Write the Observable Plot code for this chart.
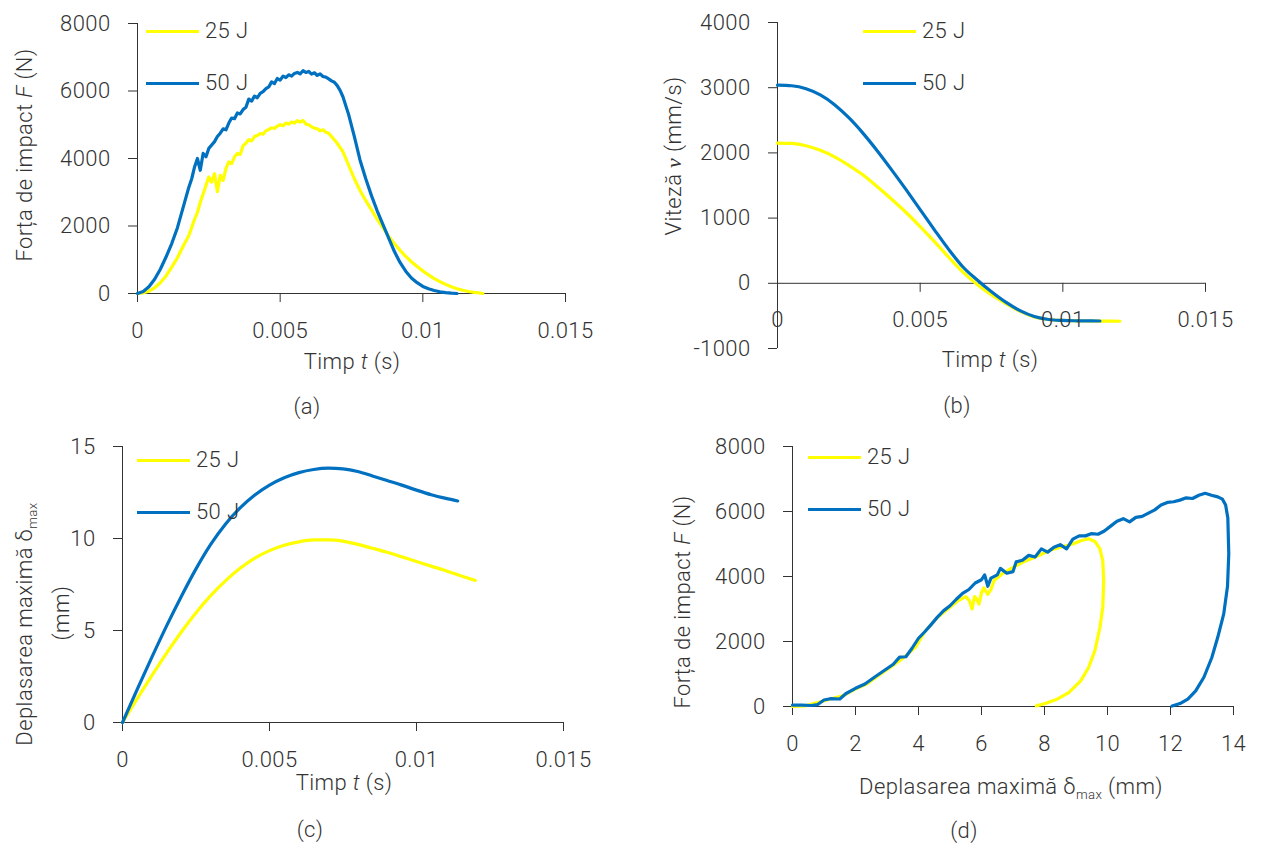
<!DOCTYPE html>
<html><head><meta charset="utf-8">
<script src="https://cdn.jsdelivr.net/npm/d3@7"></script>
<script src="https://cdn.jsdelivr.net/npm/@observablehq/plot@0.6"></script>
<style>
body{margin:0;background:#fff;}
#wrap{position:relative;width:1262px;height:845px;overflow:hidden;font-family:Roboto,"Noto Sans",sans-serif;font-weight:300;color:#333;font-size:22px;letter-spacing:0.4px;}
.panel{position:absolute;}
.lbl{position:absolute;white-space:nowrap;line-height:1;}
.rot{transform:translate(-50%,-50%) rotate(-90deg);}
.ctr{transform:translate(-50%,-50%);}
.leg{position:absolute;display:flex;align-items:center;transform:translateY(-50%);white-space:nowrap;line-height:1;}
.leg b{display:inline-block;width:53px;height:3px;margin-right:6px;}
sub{font-size:60%;vertical-align:-0.35em;line-height:0;}
.mv{font-family:"Liberation Serif","DejaVu Serif",serif;font-style:italic;font-weight:400;}
</style>
</head><body>
<div id="wrap"></div>
<script>
// ---------- data ----------
const seriesNames = ["25 J", "50 J"];
const seriesColors = ["#ffff00", "#0070c0"];
const timeTicks = [0, 0.005, 0.01, 0.015];
const forceTicks = [0, 2000, 4000, 6000, 8000];
const speedTicks = [-1000, 0, 1000, 2000, 3000, 4000];
const dispTicks = [0, 5, 10, 15];
const dispXTicks = [0, 2, 4, 6, 8, 10, 12, 14];

// (a) force F (N) vs time t (s)
const forceTime25 = [[0,0],[0.0002,20],[0.0004,70],[0.0006,170],[0.0008,320],[0.001,520],[0.0012,780],[0.0014,1060],[0.0016,1400],[0.0018,1720],[0.002,2200],[0.0021,2400],[0.0022,2700],[0.0023,2950],[0.0024,3200],[0.0025,3450],[0.0026,3300],[0.0027,3550],[0.0028,3020],[0.0029,3500],[0.003,3350],[0.0031,3700],[0.0032,3900],[0.0033,3850],[0.0034,4050],[0.0035,4150],[0.0036,4120],[0.0037,4380],[0.0038,4450],[0.0039,4560],[0.004,4520],[0.0041,4650],[0.0042,4680],[0.0043,4740],[0.0044,4720],[0.0045,4820],[0.0046,4860],[0.0047,4910],[0.0048,4890],[0.0049,4960],[0.005,5000],[0.0051,4970],[0.0052,5050],[0.0053,5020],[0.0054,5080],[0.0055,5050],[0.0056,5120],[0.0057,5080],[0.0058,5130],[0.0059,5020],[0.006,5000],[0.0061,4940],[0.0062,4900],[0.0063,4880],[0.0064,4820],[0.0065,4850],[0.0066,4780],[0.0067,4750],[0.0068,4650],[0.007,4450],[0.0072,4200],[0.0074,3800],[0.0076,3400],[0.0078,3050],[0.008,2750],[0.0082,2480],[0.0084,2200],[0.0086,1950],[0.0088,1700],[0.009,1480],[0.0092,1280],[0.0094,1100],[0.0096,940],[0.0098,800],[0.01,670],[0.0102,550],[0.0104,440],[0.0106,350],[0.0108,270],[0.011,200],[0.0112,140],[0.0114,95],[0.0116,60],[0.0118,35],[0.012,15],[0.0121,0]];
const forceTime50 = [[0,0],[0.0002,60],[0.0004,200],[0.0006,420],[0.0008,720],[0.001,1080],[0.0012,1480],[0.0014,1950],[0.0016,2550],[0.0018,3150],[0.0019,3400],[0.002,3750],[0.0021,4000],[0.0022,3650],[0.0023,4150],[0.0024,4050],[0.0025,4300],[0.0026,4400],[0.0027,4500],[0.0028,4650],[0.0029,4750],[0.003,4880],[0.0031,4850],[0.0032,5050],[0.0033,5200],[0.0034,5180],[0.0035,5350],[0.0036,5320],[0.0037,5450],[0.0038,5520],[0.0039,5760],[0.004,5700],[0.0041,5850],[0.0042,5800],[0.0043,5930],[0.0044,5980],[0.0045,6070],[0.0046,6120],[0.0047,6270],[0.0048,6220],[0.0049,6370],[0.005,6320],[0.0051,6440],[0.0052,6400],[0.0053,6480],[0.0054,6440],[0.0055,6520],[0.0056,6550],[0.0057,6510],[0.0058,6600],[0.0059,6550],[0.006,6580],[0.0061,6500],[0.0062,6540],[0.0063,6460],[0.0064,6510],[0.0065,6430],[0.0066,6410],[0.0067,6360],[0.0068,6300],[0.0069,6260],[0.007,6160],[0.0071,6020],[0.0072,5830],[0.0074,5300],[0.0076,4650],[0.0078,3950],[0.008,3400],[0.0082,2900],[0.0084,2450],[0.0086,2050],[0.0088,1650],[0.009,1250],[0.0092,920],[0.0094,660],[0.0096,460],[0.0098,320],[0.01,210],[0.0102,140],[0.0104,90],[0.0106,50],[0.0108,25],[0.011,10],[0.0112,0]];

// (b) velocity v (mm/s) vs time t (s)
const speedTime25 = [[0,2150],[0.0005,2145],[0.001,2110],[0.0015,2040],[0.002,1940],[0.0025,1810],[0.003,1660],[0.0035,1480],[0.004,1290],[0.0045,1090],[0.005,870],[0.0055,640],[0.006,400],[0.0065,170],[0.007,-20],[0.0075,-180],[0.008,-310],[0.0085,-430],[0.009,-515],[0.0095,-555],[0.01,-570],[0.0105,-576],[0.011,-579],[0.0115,-580],[0.012,-582]];
const speedTime50 = [[0,3040],[0.0005,3030],[0.001,2985],[0.0015,2890],[0.002,2740],[0.0025,2540],[0.003,2300],[0.0035,2030],[0.004,1740],[0.0045,1440],[0.005,1130],[0.0055,820],[0.006,520],[0.0065,250],[0.007,50],[0.0075,-130],[0.008,-290],[0.0085,-420],[0.009,-510],[0.0095,-555],[0.01,-570],[0.0105,-575],[0.011,-577],[0.0113,-578]];

// (c) displacement (mm) vs time t (s)
const dispTime25 = [[0,0],[0.0005,1.3],[0.001,2.55],[0.0015,3.77],[0.002,4.92],[0.0025,5.97],[0.003,6.9],[0.0035,7.7],[0.004,8.38],[0.0045,8.93],[0.005,9.34],[0.0055,9.63],[0.006,9.82],[0.0065,9.92],[0.007,9.93],[0.0075,9.86],[0.008,9.68],[0.0085,9.47],[0.009,9.25],[0.0095,9.0],[0.01,8.75],[0.0105,8.5],[0.011,8.25],[0.0115,7.98],[0.012,7.72]];
const dispTime50 = [[0,0],[0.0005,1.8],[0.001,3.55],[0.0015,5.25],[0.002,6.85],[0.0025,8.35],[0.003,9.68],[0.0035,10.78],[0.004,11.66],[0.0045,12.36],[0.005,12.9],[0.0055,13.3],[0.006,13.58],[0.0065,13.75],[0.007,13.82],[0.0075,13.78],[0.008,13.64],[0.0085,13.4],[0.009,13.15],[0.0095,12.9],[0.01,12.63],[0.0105,12.38],[0.011,12.18],[0.0114,12.04]];

// (d) force F (N) vs displacement (mm), in path order
const forceDisp25 = [[0,0],[0.4,20],[0.8,120],[1.2,230],[1.6,330],[2.0,540],[2.35,690],[2.7,930],[3.1,1200],[3.5,1480],[3.9,1820],[4.2,2300],[4.6,2740],[5.0,3050],[5.25,3250],[5.5,3380],[5.62,3250],[5.7,3000],[5.78,3380],[5.85,3300],[5.92,3150],[6.0,3500],[6.07,3650],[6.2,3450],[6.3,3600],[6.4,3880],[6.65,4080],[7.0,4280],[7.4,4480],[7.8,4640],[8.15,4800],[8.5,4900],[8.9,5000],[9.15,5100],[9.4,5160],[9.6,5080],[9.76,4850],[9.85,4480],[9.88,3870],[9.85,3050],[9.76,2430],[9.6,1720],[9.4,1200],[9.15,790],[8.77,430],[8.4,225],[8.02,90],[7.74,20]];
const forceDisp50 = [[0,40],[0.3,45],[0.6,30],[0.8,60],[1.0,200],[1.2,240],[1.5,230],[1.7,400],[2.0,560],[2.3,690],[2.6,900],[2.9,1100],[3.2,1300],[3.4,1520],[3.6,1530],[3.8,1800],[4.0,2100],[4.2,2300],[4.4,2520],[4.6,2750],[4.8,2950],[5.0,3100],[5.2,3300],[5.4,3480],[5.6,3600],[5.8,3800],[6.0,3900],[6.1,4050],[6.2,3700],[6.3,3950],[6.5,4050],[6.6,4250],[6.8,4100],[7.0,4150],[7.1,4450],[7.3,4500],[7.5,4650],[7.7,4600],[7.9,4850],[8.1,4750],[8.3,4900],[8.5,4980],[8.7,4850],[8.9,5150],[9.1,5250],[9.3,5250],[9.5,5320],[9.7,5300],[9.9,5400],[10.1,5550],[10.3,5700],[10.5,5780],[10.7,5680],[10.9,5820],[11.1,5850],[11.3,5950],[11.5,6050],[11.7,6200],[11.9,6280],[12.1,6300],[12.3,6350],[12.5,6420],[12.7,6400],[12.9,6500],[13.1,6560],[13.3,6500],[13.5,6450],[13.65,6380],[13.75,6200],[13.82,5800],[13.85,4700],[13.81,3700],[13.69,2850],[13.5,2130],[13.31,1500],[13.06,900],[12.8,480],[12.55,230],[12.3,90],[12.05,15]];

// ---------- drawing ----------
const wrap = document.getElementById("wrap");
const AX = "#333333";
const TXT = "#333333";
const fmt = d => String(d);
const baseStyle = {fontFamily: 'Roboto, "Noto Sans", sans-serif', fontWeight: 300, fontSize: "22px", color: TXT, background: "transparent", overflow: "visible", letterSpacing: "0.4px"};

function lines(s25, s50, curve) {
  return [
    Plot.line(s25, {x: d => d[0], y: d => d[1], stroke: seriesColors[0], strokeWidth: 3.2, curve, strokeLinejoin: "round"}),
    Plot.line(s50, {x: d => d[0], y: d => d[1], stroke: seriesColors[1], strokeWidth: 3.2, curve, strokeLinejoin: "round"})
  ];
}
function place(svg, left, top) {
  const d = document.createElement("div");
  d.className = "panel"; d.style.left = left + "px"; d.style.top = top + "px";
  d.appendChild(svg); wrap.appendChild(d);
}
function stdAxes(xt, yt) {
  return [
    Plot.ruleX([0], {stroke: AX}),
    Plot.ruleY([0], {stroke: AX}),
    Plot.axisX(xt, {tickSize: 9, tickPadding: 20, tickFormat: fmt, label: null, stroke: AX, fill: TXT}),
    Plot.axisY(yt, {tickSize: 9, tickPadding: 18, tickFormat: fmt, label: null, stroke: AX, fill: TXT})
  ];
}

// (a)
place(Plot.plot({
  width: 631, height: 420, marginLeft: 137, marginRight: 66, marginTop: 23, marginBottom: 127,
  x: {domain: [0, 0.015]}, y: {domain: [0, 8000]}, style: baseStyle,
  marks: [...stdAxes(timeTicks, forceTicks), ...lines(forceTime25, forceTime50, "linear")]
}), 0, 0);

// (b): x axis drawn through v = 0
place(Plot.plot({
  width: 631, height: 420, marginLeft: 146, marginRight: 57, marginTop: 22, marginBottom: 72,
  x: {domain: [0, 0.015], axis: null}, y: {domain: [-1000, 4000]}, style: baseStyle,
  marks: [
    Plot.ruleX([0], {stroke: AX}),
    Plot.ruleY([0], {stroke: AX}),
    Plot.axisY(speedTicks, {tickSize: 9, tickPadding: 18, tickFormat: fmt, label: null, stroke: AX, fill: TXT}),
    Plot.ruleX(timeTicks, {x: d => d, y1: () => 0, y2: () => 0, insetTop: 0, insetBottom: -9, stroke: AX}),
    ...lines(speedTime25, speedTime50, "monotone-x"),
    Plot.text(timeTicks, {x: d => d, y: () => 0, text: fmt, dy: 37, fill: TXT})
  ]
}), 631, 0);

// (c)
place(Plot.plot({
  width: 631, height: 420, marginLeft: 122, marginRight: 68, marginTop: 26, marginBottom: 118,
  x: {domain: [0, 0.015]}, y: {domain: [0, 15]}, style: baseStyle,
  marks: [...stdAxes(timeTicks, dispTicks), ...lines(dispTime25, dispTime50, "monotone-x")]
}), 0, 420);

// (d)
place(Plot.plot({
  width: 631, height: 425, marginLeft: 161, marginRight: 29, marginTop: 26, marginBottom: 139,
  x: {domain: [0, 14]}, y: {domain: [0, 8000]}, style: baseStyle,
  marks: [...stdAxes(dispXTicks, forceTicks), ...lines(forceDisp25, forceDisp50, "linear")]
}), 631, 420);

// ---------- texts ----------
function label(html, x, y, cls) {
  const d = document.createElement("div");
  d.className = "lbl " + cls; d.innerHTML = html;
  d.style.left = x + "px"; d.style.top = y + "px";
  wrap.appendChild(d);
}
const forceTitle = "Forța de impact <i>F</i> (N)";
const timeTitle = "Timp <i>t</i> (s)";
label(forceTitle, 25, 155, "rot");
label(timeTitle, 352, 362, "ctr");
label("(a)", 307, 407, "ctr");
label('Viteză <span class="mv">v</span> (mm/s)', 674, 156, "rot");
label(timeTitle, 990, 360, "ctr");
label("(b)", 957, 406, "ctr");
label("Deplasarea maximă δ<sub>max</sub>", 25, 624, "rot");
label("(mm)", 62, 613, "rot");
label(timeTitle, 344, 783, "ctr");
label("(c)", 310, 830, "ctr");
label(forceTitle, 683, 602, "rot");
label("Deplasarea maximă δ<sub>max</sub> (mm)", 1011, 787, "ctr");
label("(d)", 964, 831, "ctr");

function legend(x, y25, y50) {
  [[y25, 0], [y50, 1]].forEach(([y, i]) => {
    const d = document.createElement("div");
    d.className = "leg"; d.style.left = x + "px"; d.style.top = y + "px";
    d.innerHTML = `<b style="background:${seriesColors[i]}"></b><span>${seriesNames[i]}</span>`;
    wrap.appendChild(d);
  });
}
legend(146, 31, 83);
legend(863, 31, 83);
legend(137, 460, 512);
legend(808, 457, 509);
</script>
</body></html>
